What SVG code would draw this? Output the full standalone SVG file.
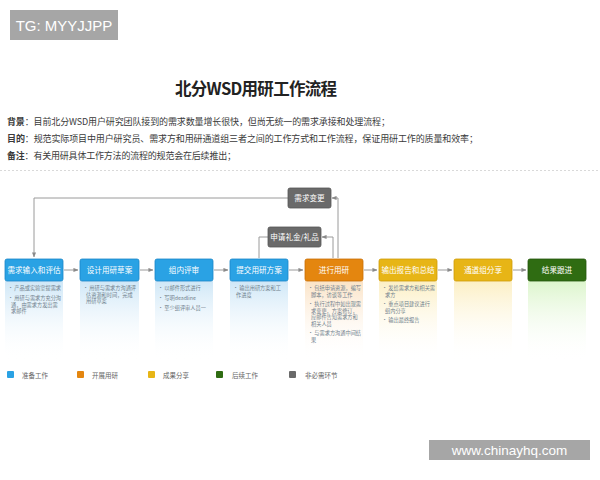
<svg xmlns="http://www.w3.org/2000/svg" width="600" height="480" viewBox="0 0 600 480">
<defs>
<style>
.cn{font-family:"Noto Sans CJK SC","Liberation Sans",sans-serif;}
.body{font-size:9px;fill:#3a3a3a;}
.lbl{font-weight:bold;}
.bt{font-size:7.6px;fill:#fff;text-anchor:middle;}
.bl{font-size:5.2px;fill:#6f7f8c;}
.lg{font-size:6.5px;fill:#666;}
.conn{fill:none;stroke:#9a9a9a;stroke-width:1;}
.blue{fill:#2aa2e4;stroke:#1b86c8;stroke-width:0.8;}
.orange{fill:#e4860f;stroke:#c96f05;stroke-width:0.8;}
.yellow{fill:#e7b516;stroke:#cf9c08;stroke-width:0.8;}
.green{fill:#2f6c12;stroke:#24570c;stroke-width:0.8;}
.gray{fill:#6a6a6a;stroke:#555;stroke-width:0.8;}
</style>
<marker id="ah" viewBox="0 0 6 6" refX="5.5" refY="3" markerWidth="5" markerHeight="5" orient="auto">
<path d="M0,0.5 L6,3 L0,5.5 z" fill="#8a8a8a"/>
</marker>
<linearGradient id="gBlue" x1="0" y1="0" x2="0" y2="1">
<stop offset="0" stop-color="#cfe7f7"/><stop offset="1" stop-color="#ffffff" stop-opacity="0"/>
</linearGradient>
<linearGradient id="gOrange" x1="0" y1="0" x2="0" y2="1">
<stop offset="0" stop-color="#fbe3c6"/><stop offset="1" stop-color="#ffffff" stop-opacity="0"/>
</linearGradient>
<linearGradient id="gYellow" x1="0" y1="0" x2="0" y2="1">
<stop offset="0" stop-color="#fcefc4"/><stop offset="1" stop-color="#ffffff" stop-opacity="0"/>
</linearGradient>
<linearGradient id="gGreen" x1="0" y1="0" x2="0" y2="1">
<stop offset="0" stop-color="#dcf5cc"/><stop offset="1" stop-color="#ffffff" stop-opacity="0"/>
</linearGradient>
</defs>
<rect width="600" height="480" fill="#ffffff"/>

<g id="watermark-top">
<rect x="10" y="10" width="108" height="30" fill="#a6a6a6"/>
<text x="64" y="30.5" font-family="Liberation Sans, sans-serif" font-size="15" fill="#ffffff" text-anchor="middle">TG: MYYJJPP</text>
</g>

<g id="header" class="cn">
<text x="256" y="95" font-size="16.5" font-weight="bold" fill="#222" text-anchor="middle" textLength="162">北分WSD用研工作流程</text>
<text class="body" x="7" y="125" textLength="383"><tspan class="lbl">背景</tspan>：目前北分WSD用户研究团队接到的需求数量增长很快，但尚无统一的需求承接和处理流程；</text>
<text class="body" x="7" y="142" textLength="471"><tspan class="lbl">目的</tspan>：规范实际项目中用户研究员、需求方和用研通道组三者之间的工作方式和工作流程，保证用研工作的质量和效率；</text>
<text class="body" x="7" y="159" textLength="229"><tspan class="lbl">备注</tspan>：有关用研具体工作方法的流程的规范会在后续推出；</text>
<line x1="0" y1="170.5" x2="600" y2="170.5" stroke="#cfcfcf" stroke-width="0.8" stroke-dasharray="2,2"/>
</g>

<g id="panels">
<rect x="5" y="281" width="58" height="80" fill="url(#gBlue)"/>
<rect x="80" y="281" width="59" height="80" fill="url(#gBlue)"/>
<rect x="155" y="281" width="58" height="80" fill="url(#gBlue)"/>
<rect x="230" y="281" width="58" height="80" fill="url(#gBlue)"/>
<rect x="305" y="281" width="58" height="80" fill="url(#gOrange)"/>
<rect x="379" y="281" width="58" height="80" fill="url(#gYellow)"/>
<rect x="454" y="281" width="58" height="80" fill="url(#gYellow)"/>
<rect x="528" y="281" width="58" height="80" fill="url(#gGreen)"/>
</g>

<g id="connectors">
<line class="conn" x1="64" y1="270" x2="78" y2="270" marker-end="url(#ah)"/>
<line class="conn" x1="140" y1="270" x2="153" y2="270" marker-end="url(#ah)"/>
<line class="conn" x1="214" y1="270" x2="228" y2="270" marker-end="url(#ah)"/>
<line class="conn" x1="289" y1="270" x2="303" y2="270" marker-end="url(#ah)"/>
<line class="conn" x1="364" y1="270" x2="377" y2="270" marker-end="url(#ah)"/>
<line class="conn" x1="438" y1="270" x2="452" y2="270" marker-end="url(#ah)"/>
<line class="conn" x1="513" y1="270" x2="526" y2="270" marker-end="url(#ah)"/>
<polyline class="conn" points="338,258 338,198 332,198" marker-end="url(#ah)"/>
<polyline class="conn" points="288,198 34,198 34,257" marker-end="url(#ah)"/>
<polyline class="conn" points="333,258 333,237 322,237" marker-end="url(#ah)"/>
<polyline class="conn" points="268,237 259,237 259,258"/>
</g>

<g id="n-xuqiubiangeng" class="cn">
<rect class="gray" x="288" y="188" width="43" height="20" rx="2"/>
<text class="bt" x="309.5" y="201">需求变更</text>
</g>
<g id="n-shenqing" class="cn">
<rect class="gray" x="268" y="227" width="53" height="20" rx="2"/>
<text class="bt" x="294.5" y="239.5" font-size="6.5">申请礼金/礼品</text>
</g>

<g id="n1" class="cn">
<rect class="blue" x="5" y="259" width="58" height="22" rx="2"/>
<text class="bt" x="34" y="273">需求输入和评估</text>
<text class="bl" x="8" y="290">• 产品或实验室提需求</text>
<text class="bl" x="8" y="300">• 用研与需求方充分沟</text>
<text class="bl" x="11" y="306.5">通，由需求方发出需</text>
<text class="bl" x="11" y="313">求邮件</text>
</g>
<g id="n2" class="cn">
<rect class="blue" x="80" y="259" width="59" height="22" rx="2"/>
<text class="bt" x="109.5" y="273">设计用研草案</text>
<text class="bl" x="83" y="290">• 用研与需求方沟通评</text>
<text class="bl" x="86" y="296.5">估资源和时间，完成</text>
<text class="bl" x="86" y="303">用研草案</text>
</g>
<g id="n3" class="cn">
<rect class="blue" x="155" y="259" width="58" height="22" rx="2"/>
<text class="bt" x="184" y="273">组内评审</text>
<text class="bl" x="158" y="290">• 以邮件形式进行</text>
<text class="bl" x="158" y="300">• 写明deadline</text>
<text class="bl" x="158" y="310">• 至少组评审人员一</text>
</g>
<g id="n4" class="cn">
<rect class="blue" x="230" y="259" width="58" height="22" rx="2"/>
<text class="bt" x="259" y="273">提交用研方案</text>
<text class="bl" x="233" y="290">• 输出用研方案和工</text>
<text class="bl" x="236" y="296.5">作进度</text>
</g>
<g id="n5" class="cn">
<rect class="orange" x="305" y="259" width="58" height="22" rx="2"/>
<text class="bt" x="334" y="273">进行用研</text>
<text class="bl" x="308" y="290">• 包括申请资源，编写</text>
<text class="bl" x="311" y="296.5">脚本，访谈等工作</text>
<text class="bl" x="308" y="306">• 执行过程中如出现需</text>
<text class="bl" x="311" y="312.5">求变更，方案修订，</text>
<text class="bl" x="311" y="319">应邮件告知需求方和</text>
<text class="bl" x="311" y="325.5">相关人员</text>
<text class="bl" x="308" y="335">• 与需求方沟通中间结</text>
<text class="bl" x="311" y="341.5">果</text>
</g>
<g id="n6" class="cn">
<rect class="yellow" x="379" y="259" width="58" height="22" rx="2"/>
<text class="bt" x="408" y="273">输出报告和总结</text>
<text class="bl" x="382" y="290">• 发给需求方和相关需</text>
<text class="bl" x="385" y="296.5">求方</text>
<text class="bl" x="382" y="306">• 重点项目建议进行</text>
<text class="bl" x="385" y="312.5">组内分享</text>
<text class="bl" x="382" y="322">• 输出最终报告</text>
</g>
<g id="n7" class="cn">
<rect class="yellow" x="454" y="259" width="58" height="22" rx="2"/>
<text class="bt" x="483" y="273">通道组分享</text>
</g>
<g id="n8" class="cn">
<rect class="green" x="528" y="259" width="58" height="22" rx="2"/>
<text class="bt" x="557" y="273">结果跟进</text>
</g>

<g id="legend" class="cn">
<rect x="7" y="371" width="7" height="7" rx="1" fill="#2aa2e4"/>
<text class="lg" x="22" y="377.5">准备工作</text>
<rect x="77" y="371" width="7" height="7" rx="1" fill="#e4860f"/>
<text class="lg" x="92" y="377.5">开展用研</text>
<rect x="148" y="371" width="7" height="7" rx="1" fill="#e7b516"/>
<text class="lg" x="163" y="377.5">成果分享</text>
<rect x="216" y="371" width="7" height="7" rx="1" fill="#2f6c12"/>
<text class="lg" x="232" y="377.5">后续工作</text>
<rect x="289" y="371" width="7" height="7" rx="1" fill="#6a6a6a"/>
<text class="lg" x="305" y="377.5">非必需环节</text>
</g>

<g id="watermark-bottom">
<rect x="429" y="440" width="161" height="20" fill="#a6a6a6"/>
<text x="509.5" y="455" font-family="Liberation Sans, sans-serif" font-size="13.5" fill="#ffffff" text-anchor="middle">www.chinayhq.com</text>
</g>
</svg>
